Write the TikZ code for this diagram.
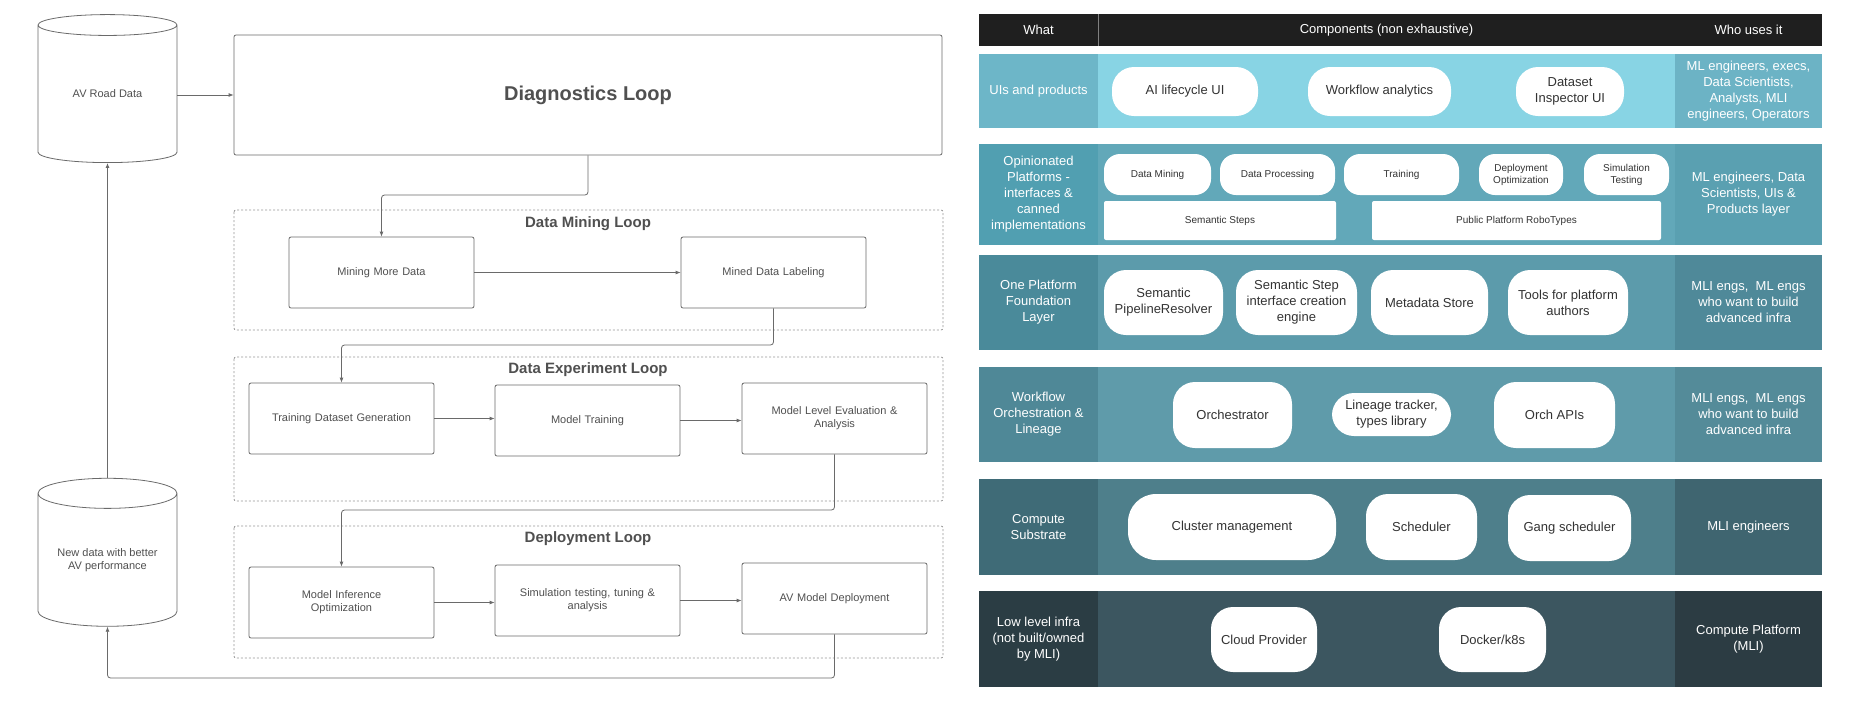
\documentclass[tikz,border=0pt]{standalone}
\usepackage{fontspec}
\setmainfont{Liberation Sans}
\usetikzlibrary{shapes.geometric,arrows.meta}
\definecolor{lc}{HTML}{6A6A6A}
\definecolor{lt}{HTML}{505050}
\begin{document}
\begin{tikzpicture}[x=1pt,y=-1pt,
  box/.style={draw=lc,line width=0.8pt,rounded corners=2pt,text=lt,font=\fontsize{11}{13}\selectfont,align=center,inner sep=1pt},
  loopbox/.style={draw=lc!70,line width=0.8pt,dash pattern=on 2pt off 2pt,rounded corners=2pt},
  ttl/.style={font=\bfseries\fontsize{15}{17}\selectfont,text=lt},
  db/.style={cylinder,shape border rotate=90,aspect=0.3,draw=lc,line width=0.8pt,text=lt,font=\fontsize{11}{13}\selectfont,align=center,minimum width=139pt,minimum height=148pt,inner sep=0pt},
  arr/.style={draw=lc,line width=0.8pt,-{Latex[length=5pt,width=4pt]},rounded corners=3pt},
  pill/.style={fill=white,rounded corners=22pt,align=center,font=\fontsize{13}{16}\selectfont,text=black!80,inner sep=1pt},
  spill/.style={fill=white,rounded corners=16pt,align=center,font=\fontsize{10}{12}\selectfont,text=black!80,inner sep=1pt},
  lab/.style={align=center,text=white,font=\fontsize{13}{16}\selectfont}]
\useasboundingbox (0,0) rectangle (1850,710);
\fill[white] (0,0) rectangle (1850,710);
% ---------- left diagram
\node[db] (av) at (107.5,94) {AV Road Data};
\node[db] (nd) at (107.5,560) {New data with better\\AV performance};
\node[draw=lc,line width=0.8pt,rounded corners=2pt,minimum width=708pt,minimum height=120pt,font=\bfseries\fontsize{20}{24}\selectfont,text=lt] (diag) at (588,95) {Diagnostics Loop};
\draw[loopbox] (234,210) rectangle (943,330);
\draw[loopbox] (234,357) rectangle (943,501);
\draw[loopbox] (234,526) rectangle (943,658);
\node[ttl] (t1) at (588,224) {Data Mining Loop};
\node[ttl] (t2) at (588,370) {Data Experiment Loop};
\node[ttl] (t3) at (588,539) {Deployment Loop};
\tikzset{lb/.style={box,minimum width=185pt,minimum height=71pt,text width=183pt}}
\node[lb] (mmd) at (381.5,272.5) {Mining More Data};
\node[lb] (mdl) at (773.5,272.5) {Mined Data Labeling};
\node[lb] (tdg) at (341.5,418.5) {Training Dataset Generation};
\node[lb] (mt) at (587.5,420.5) {Model Training};
\node[lb] (mle) at (834.5,418.5) {Model Level Evaluation \&\\Analysis};
\node[lb] (mio) at (341.5,602.5) {Model Inference\\Optimization};
\node[lb] (sim) at (587.5,600.5) {Simulation testing, tuning \&\\analysis};
\node[lb] (avd) at (834.5,598.5) {AV Model Deployment};
\coordinate (e1) at (588,195);
\coordinate (e2) at (773.5,345);
\coordinate (e3) at (834.5,510);
\coordinate (e4) at (107.5,678);
\draw[arr] (av.east |- diag.west) -- (diag.west);
\draw[arr] (diag.south) -- (e1) -| (mmd.north);
\draw[arr] (mmd) -- (mdl);
\draw[arr] (mdl.south) -- (e2) -| (tdg.north);
\draw[arr] (tdg.east) -- (tdg.east -| mt.west);
\draw[arr] (mt.east) -- (mt.east -| mle.west);
\draw[arr] (mle.south) -- (e3) -| (mio.north);
\draw[arr] (mio.east) -- (mio.east -| sim.west);
\draw[arr] (sim.east) -- (sim.east -| avd.west);
\draw[arr] (avd.south) |- (e4) -- (nd.south);
\draw[arr] (nd.north) -- (av.south);
% ---------- right table
\fill[black!88] (979,14) rectangle (1822,46);
\draw[gray,line width=0.6pt] (1098,14) -- (1098,46);
\node[lab] (hw) at (1038.5,30) {What};
\node[lab] (hc) at (1386.5,30) {Components (non exhaustive)};
\node[lab] (hu) at (1748.5,30) {Who uses it};
% row helper colours
\definecolor{aL}{HTML}{6DB6C8}\definecolor{aM}{HTML}{88D4E4}\definecolor{aR}{HTML}{6CB3C5}
\definecolor{bL}{HTML}{519FB1}\definecolor{bM}{HTML}{62A8B9}\definecolor{bR}{HTML}{5AA0B1}
\definecolor{cL}{HTML}{4A8A9A}\definecolor{cM}{HTML}{5C9BAB}\definecolor{cR}{HTML}{4F8999}
\definecolor{dL}{HTML}{4F8897}\definecolor{dM}{HTML}{5F9BAA}\definecolor{dR}{HTML}{548B99}
\definecolor{eL}{HTML}{3F6B77}\definecolor{eM}{HTML}{4E7F8B}\definecolor{eR}{HTML}{3F6570}
\definecolor{fL}{HTML}{2B3D44}\definecolor{fM}{HTML}{3C5660}\definecolor{fR}{HTML}{2C3C43}
\foreach \p/\ya/\yb in {a/54/128,b/144/245,c/255/350,d/367/462,e/479/575,f/591/687}{
  \fill[\p M] (1098,\ya) rectangle (1675,\yb);
  \fill[\p L] (979,\ya) rectangle (1098,\yb);
  \fill[\p R] (1675,\ya) rectangle (1822,\yb);
}
% row 1
\node[lab] (w1) at (1038.5,91) {UIs and products};
\node[lab] (u1) at (1748.5,91) {ML engineers, execs,\\Data Scientists,\\Analysts, MLI\\engineers, Operators};
\node[pill,minimum width=146pt,minimum height=49pt] (p11) at (1185,91.5) {AI lifecycle UI};
\node[pill,minimum width=143pt,minimum height=49pt] (p12) at (1379.5,91.5) {Workflow analytics};
\node[pill,minimum width=108pt,minimum height=49pt] (p13) at (1570,91.5) {Dataset\\Inspector UI};
% row 2
\node[lab] (w2) at (1038.5,194.5) {Opinionated\\Platforms -\\interfaces \&\\canned\\implementations};
\node[lab] (u2) at (1748.5,194.5) {ML engineers, Data\\Scientists, UIs \&\\Products layer};
\node[spill,minimum width=107pt,minimum height=41pt] (p21) at (1157.5,174.5) {Data Mining};
\node[spill,minimum width=115pt,minimum height=41pt] (p22) at (1277.5,174.5) {Data Processing};
\node[spill,minimum width=115pt,minimum height=41pt] (p23) at (1401.5,174.5) {Training};
\node[spill,minimum width=84pt,minimum height=41pt] (p24) at (1521,174.5) {Deployment\\Optimization};
\node[spill,minimum width=85pt,minimum height=41pt] (p25) at (1626.5,174.5) {Simulation\\Testing};
\node[fill=white,rounded corners=2pt,font=\fontsize{10}{12}\selectfont,minimum width=232pt,minimum height=39pt,text=black!80] (p26) at (1220,220.5) {Semantic Steps};
\node[fill=white,rounded corners=2pt,font=\fontsize{10}{12}\selectfont,minimum width=289pt,minimum height=39pt,text=black!80] (p27) at (1516.5,220.5) {Public Platform RoboTypes};
% row 3
\node[lab] (w3) at (1038.5,302.5) {One Platform\\Foundation\\Layer};
\node[lab] (u3) at (1748.5,302.5) {MLI engs,\ \ ML engs\\who want to build\\advanced infra};
\node[pill,minimum width=119pt,minimum height=65pt] (p31) at (1163.5,302.5) {Semantic\\PipelineResolver};
\node[pill,minimum width=121pt,minimum height=65pt] (p32) at (1296.5,302.5) {Semantic Step\\interface creation\\engine};
\node[pill,minimum width=117pt,minimum height=65pt] (p33) at (1429.5,302.5) {Metadata Store};
\node[pill,minimum width=120pt,minimum height=65pt] (p34) at (1568,302.5) {Tools for platform\\authors};
% row 4
\node[lab] (w4) at (1038.5,414.5) {Workflow\\Orchestration \&\\Lineage};
\node[lab] (u4) at (1748.5,414.5) {MLI engs,\ \ ML engs\\who want to build\\advanced infra};
\node[pill,minimum width=119pt,minimum height=66pt] (p41) at (1232.5,415) {Orchestrator};
\node[pill,minimum width=119pt,minimum height=43pt] (p42) at (1391.5,414.5) {Lineage tracker,\\types library};
\node[pill,minimum width=121pt,minimum height=66pt] (p43) at (1554.5,415) {Orch APIs};
% row 5
\node[lab] (w5) at (1038.5,527) {Compute\\Substrate};
\node[lab] (u5) at (1748.5,527) {MLI engineers};
\node[pill,minimum width=208pt,minimum height=66pt,rounded corners=28pt] (p51) at (1232,527) {Cluster management};
\node[pill,minimum width=111pt,minimum height=66pt] (p52) at (1421.5,527) {Scheduler};
\node[pill,minimum width=123pt,minimum height=66pt] (p53) at (1569.5,528) {Gang scheduler};
% row 6
\node[lab] (w6) at (1038.5,639) {Low level infra\\(not built/owned\\by MLI)};
\node[lab] (u6) at (1748.5,639) {Compute Platform\\(MLI)};
\node[pill,minimum width=106pt,minimum height=65pt] (p61) at (1264,639.5) {Cloud Provider};
\node[pill,minimum width=107pt,minimum height=65pt] (p62) at (1492.5,639.5) {Docker/k8s};
\end{tikzpicture}
\end{document}
